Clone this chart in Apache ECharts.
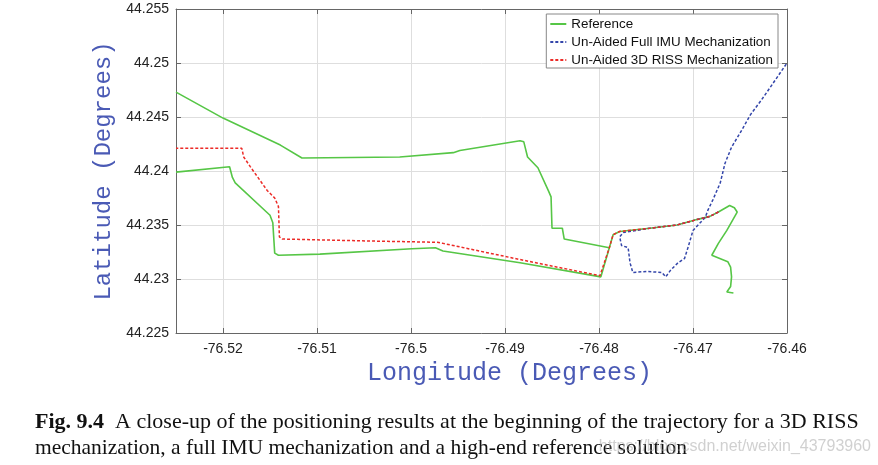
<!DOCTYPE html>
<html>
<head>
<meta charset="utf-8">
<script src="https://cdn.jsdelivr.net/npm/echarts@6/dist/echarts.min.js"></script>
<style>html,body{margin:0;padding:0;background:#fff;}#c{width:878px;height:465px;}</style>
</head>
<body>
<div id="c"></div>
<script>
// ---- data ----
var xTicks = [-76.52, -76.51, -76.50, -76.49, -76.48, -76.47, -76.46];
var yTicks = [44.225, 44.23, 44.235, 44.24, 44.245, 44.25, 44.255];

// Reference (part A: east end, road west, lower road to west edge)
var refLonA = [-76.4657,-76.4664,-76.4660,-76.4659,-76.4660,-76.4663,-76.4680,-76.4673,-76.4664,-76.4653,-76.4656,-76.4661,-76.4673,-76.4682,-76.4696,-76.4717,-76.4746,-76.4778,-76.4785,-76.4789,-76.4798,-76.4884,-76.4966,-76.4974,-76.4999,-76.5097,-76.5141,-76.5145,-76.5147,-76.5150,-76.5187,-76.5190,-76.5193,-76.5195,-76.5250];
var refLatA = [44.2287,44.2288,44.2293,44.2302,44.2311,44.2316,44.2322,44.2333,44.2345,44.2362,44.2366,44.2368,44.2362,44.2358,44.2355,44.2350,44.2347,44.2344,44.2341,44.2329,44.2302,44.2315,44.2326,44.2329,44.2328,44.2323,44.2322,44.2324,44.2352,44.2359,44.2389,44.2394,44.2404,44.2404,44.2399];
// Reference (part B: upper road)
var refLonB = [-76.5250,-76.5200,-76.5139,-76.5116,-76.5012,-76.4955,-76.4948,-76.4884,-76.4880,-76.4876,-76.4865,-76.4854,-76.4851,-76.4850,-76.4839,-76.4837,-76.4789];
var refLatB = [44.2473,44.2449,44.2424,44.2412,44.2413,44.2417,44.2419,44.2428,44.2427,44.2413,44.2403,44.2382,44.2376,44.2347,44.2347,44.2337,44.2329];

// Un-Aided Full IMU Mechanization
var imuLon = [-76.4673,-76.4682,-76.4696,-76.4717,-76.4746,-76.4774,-76.4778,-76.4776,-76.4769,-76.4767,-76.4764,-76.4749,-76.4733,-76.4729,-76.4724,-76.4716,-76.4709,-76.4705,-76.4700,-76.4687,-76.4684,-76.4679,-76.4671,-76.4666,-76.4659,-76.4648,-76.4639,-76.4627,-76.4615,-76.4600];
var imuLat = [44.2362,44.2358,44.2355,44.2350,44.2347,44.2343,44.2339,44.2331,44.2329,44.2315,44.2306,44.2307,44.2306,44.2302,44.2308,44.2315,44.2319,44.2330,44.2345,44.2357,44.2364,44.2373,44.2389,44.2407,44.2422,44.2438,44.2452,44.2466,44.2481,44.2500];

// Un-Aided 3D RISS Mechanization
var rissLon = [-76.4673,-76.4682,-76.4696,-76.4717,-76.4746,-76.4778,-76.4785,-76.4789,-76.4799,-76.4884,-76.4966,-76.4972,-76.5033,-76.5086,-76.5137,-76.5140,-76.5141,-76.5145,-76.5153,-76.5171,-76.5178,-76.5180,-76.5250];
var rissLat = [44.2362,44.2358,44.2355,44.2350,44.2347,44.2344,44.2341,44.2329,44.2303,44.2318,44.2333,44.2334,44.2335,44.2336,44.2337,44.2339,44.2367,44.2375,44.2382,44.2404,44.2413,44.2421,44.2421];

function zip(a, b) { return a.map(function (v, i) { return [v, b[i]]; }); }

var GREEN = '#56c646', BLUE = '#3446aa', RED = '#ec2b27';
var fmt = function (v) { return String(parseFloat(v.toFixed(3))); };

var chart = echarts.init(document.getElementById('c'), null, {renderer: 'canvas'});
var axisLineStyle = {color: '#666', width: 1};
chart.setOption({
  animation: false,
  backgroundColor: '#fff',
  grid: {left: 176, right: 91, top: 9, bottom: 132},
  xAxis: [{
    type: 'value', min: -76.525, max: -76.46,
    axisLine: {show: true, onZero: false, lineStyle: axisLineStyle},
    axisTick: {show: true, inside: true, length: 5, customValues: xTicks, lineStyle: axisLineStyle},
    axisLabel: {customValues: xTicks, formatter: fmt, color: '#222', fontSize: 14, fontFamily: 'Liberation Sans, Arial', margin: 9},
    splitLine: {show: true, lineStyle: {color: '#dedede', width: 1}},
    name: 'Longitude (Degrees)', nameLocation: 'middle', nameGap: 25,
    nameTextStyle: {color: '#4a5ab5', fontSize: 25, fontFamily: 'Liberation Mono, Courier New, monospace', padding: [0, 0, 0, 56]}
  }, {
    type: 'value', position: 'top', min: -76.525, max: -76.46,
    axisLine: {show: true, onZero: false, lineStyle: axisLineStyle},
    axisTick: {show: true, inside: true, length: 5, customValues: xTicks, lineStyle: axisLineStyle},
    axisLabel: {show: false}, splitLine: {show: false}
  }],
  yAxis: [{
    type: 'value', min: 44.225, max: 44.255, interval: 0.005,
    axisLine: {show: true, onZero: false, lineStyle: axisLineStyle},
    axisTick: {show: true, inside: true, length: 5, lineStyle: axisLineStyle},
    axisLabel: {formatter: fmt, color: '#222', fontSize: 14, fontFamily: 'Liberation Sans, Arial', margin: 7},
    splitLine: {show: true, lineStyle: {color: '#dedede', width: 1}},
    name: 'Latitude (Degrees)', nameLocation: 'middle', nameGap: 57, nameRotate: 90,
    nameTextStyle: {color: '#4a5ab5', fontSize: 24, fontFamily: 'Liberation Mono, Courier New, monospace'}
  }, {
    type: 'value', position: 'right', min: 44.225, max: 44.255, interval: 0.005,
    axisLine: {show: true, onZero: false, lineStyle: axisLineStyle},
    axisTick: {show: true, inside: true, length: 5, lineStyle: axisLineStyle},
    axisLabel: {show: false}, splitLine: {show: false}
  }],
  legend: {
    orient: 'vertical', right: 100, top: 14,
    backgroundColor: '#fff', borderColor: '#888', borderWidth: 1, borderRadius: 0,
    padding: [3, 5, 1, 3],
    itemWidth: 16, itemHeight: 14, itemGap: 4,
    itemStyle: {opacity: 0},
    textStyle: {fontSize: 13.4, lineHeight: 14, color: '#111', fontFamily: 'Liberation Sans, Arial'},
    data: ['Reference', 'Un-Aided Full IMU Mechanization', 'Un-Aided 3D RISS Mechanization']
  },
  series: [
    {name: 'Reference', type: 'line', data: zip(refLonA, refLatA), symbol: 'none', lineStyle: {color: GREEN, width: 1.6}, itemStyle: {color: GREEN}, z: 2},
    {name: 'Reference', type: 'line', data: zip(refLonB, refLatB), symbol: 'none', lineStyle: {color: GREEN, width: 1.6}, itemStyle: {color: GREEN}, z: 2},
    {name: 'Un-Aided Full IMU Mechanization', type: 'line', data: zip(imuLon, imuLat), symbol: 'none', lineStyle: {color: BLUE, width: 1.5, type: [3, 2]}, itemStyle: {color: BLUE}, z: 3},
    {name: 'Un-Aided 3D RISS Mechanization', type: 'line', data: zip(rissLon, rissLat), symbol: 'none', lineStyle: {color: RED, width: 1.5, type: [3, 2]}, itemStyle: {color: RED}, z: 4}
  ],
  graphic: [
    {type: 'text', left: 35, top: 411, style: {
      text: '{b|Fig. 9.4}  A close-up of the positioning results at the beginning of the trajectory for a 3D RISS',
      font: '22px "Liberation Serif", "Times New Roman", serif', fill: '#111',
      rich: {b: {fontWeight: 'bold', fontSize: 22, fontFamily: 'Liberation Serif'}}
    }},
    {type: 'text', left: 35, top: 437, style: {
      text: 'mechanization, a full IMU mechanization and a high-end reference solution',
      font: '21.5px "Liberation Serif", "Times New Roman", serif', fill: '#111'
    }},
    {type: 'text', right: 7, top: 439, z: 10, style: {
      text: 'https://blog.csdn.net/weixin_43793960',
      font: '16px "Liberation Sans", Arial, sans-serif', fill: 'rgba(170,170,170,0.55)'
    }}
  ]
});
</script>
</body>
</html>
